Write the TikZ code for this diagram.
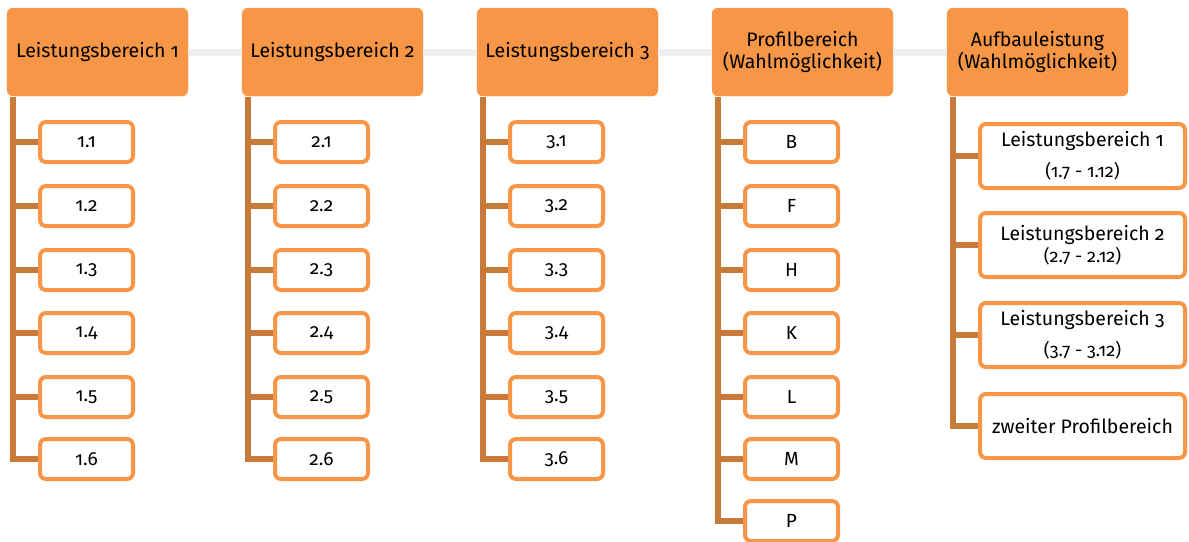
\documentclass[tikz,border=0pt]{standalone}
\usepackage{fontspec}
\setmainfont{Fira Sans}[Numbers=OldStyle]
\definecolor{hdr}{HTML}{F79646}
\definecolor{vline}{HTML}{C87A3A}
\definecolor{glink}{HTML}{EFEFEF}
\tikzset{
  hbox/.style={draw=hdr, fill=hdr, rounded corners=6pt, minimum width=181pt, minimum height=88pt, inner sep=0pt, align=center, font=\fontsize{19.5}{22}\selectfont, anchor=center},
  cbox/.style={draw=hdr, line width=4pt, fill=white, rounded corners=6pt, minimum width=93pt, minimum height=40pt, inner sep=0pt, align=center, font=\fontsize{19}{22}\selectfont},
  wbox/.style={cbox, minimum width=205pt, minimum height=64pt, font=\fontsize{19.5}{22}\selectfont},
  vl/.style={draw=vline, line width=6pt},
  tick/.style={draw=vline, line width=6pt},
  gl/.style={draw=glink, line width=7pt}
}
\begin{document}
\begin{tikzpicture}[x=1pt,y=-1pt]
\useasboundingbox (0,0) rectangle (1189,541);
% headers
\node[hbox] (h1) at (97.5,52) {Leistungsbereich 1};
\node[hbox] (h2) at (332.5,52) {Leistungsbereich 2};
\node[hbox] (h3) at (567.5,52) {Leistungsbereich 3};
\node[hbox] (h4) at (802.5,52) {Profilbereich\\(Wahlmöglichkeit)};
\node[hbox] (h5) at (1037.5,52) {Aufbauleistung\\(Wahlmöglichkeit)};
\draw[gl] (h1.east) -- (h2.west);
\draw[gl] (h2.east) -- (h3.west);
\draw[gl] (h3.east) -- (h4.west);
\draw[gl] (h4.east) -- (h5.west);
% columns 1-3
\foreach \c/\L in {1/7,2/242,3/477}{
  \foreach \r/\y in {1/142,2/206,3/270,4/333,5/397,6/459}{
    \node[cbox] (c\c\r) at (\L+33+46.5,\y) {\c.\r};
    \coordinate (t\c\r) at (\L+6,\y);
    \draw[tick] (t\c\r) -- (c\c\r.west);
  }
  \coordinate (top\c) at (\L+6,97);
  \draw[vl] (top\c) -- ([yshift=-3pt]t\c6);
}
% column 4
\foreach \r/\y/\t in {1/142/B,2/206/F,3/270/H,4/333/K,5/397/L,6/459/M,7/521/P}{
  \node[cbox] (c4\r) at (745+46.5,\y) {\t};
  \coordinate (t4\r) at (718,\y);
  \draw[tick] (t4\r) -- (c4\r.west);
}
\coordinate (top4) at (718,97);
\draw[vl] (top4) -- ([yshift=-3pt]t47);
% column 5
\node[wbox] (c51) at (1082.5,156) {Leistungsbereich 1\\[9pt]{\fontsize{18}{21}\selectfont (1.7 - 1.12)}};
\node[wbox] (c52) at (1082.5,245) {Leistungsbereich 2\\[0pt]{\fontsize{18}{21}\selectfont (2.7 - 2.12)}};
\node[wbox] (c53) at (1082.5,335) {Leistungsbereich 3\\[9pt]{\fontsize{18}{21}\selectfont (3.7 - 3.12)}};
\node[wbox] (c54) at (1082.5,426) {zweiter Profilbereich};
\foreach \r in {1,...,4}{
  \coordinate (t5\r) at (953,0 |- c5\r.west);
  \draw[tick] (t5\r) -- (c5\r.west);
}
\coordinate (top5) at (953,97);
\draw[vl] (top5) -- ([yshift=-3pt]t54);
\end{tikzpicture}
\end{document}
